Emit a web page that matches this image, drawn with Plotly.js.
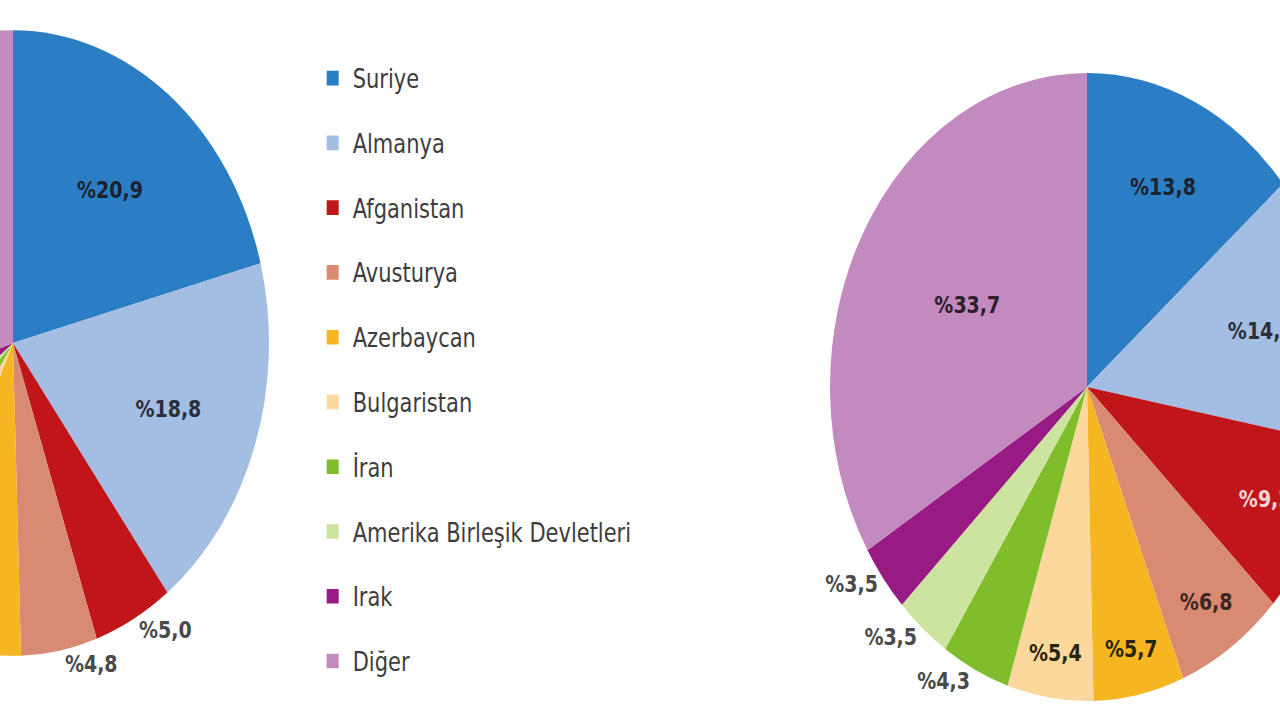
<!DOCTYPE html>
<html>
<head>
<meta charset="utf-8">
<script src="https://cdn.plot.ly/plotly-3.0.1.min.js"></script>
<style>
  html, body { margin: 0; padding: 0; width: 1280px; height: 720px; overflow: hidden; background: #ffffff; }
  #chart { position: absolute; left: -300px; top: 0; width: 1700px; height: 600px;
           transform: scaleY(1.222); transform-origin: 0 0; }
</style>
</head>
<body>
<div id="chart"></div>
<script>
// Categories (countries)
const countries = ["Suriye", "Almanya", "Afganistan", "Avusturya", "Azerbaycan",
                   "Bulgaristan", "İran", "Amerika Birleşik Devletleri", "Irak", "Diğer"];
// Left pie (percent shares)
const leftValues  = [20.9, 18.8, 5.0, 4.8, 7.5, 2.5, 3.0, 2.0, 5.5, 30.0];
// Right pie (percent shares)
const rightValues = [13.8, 14.1, 9.2, 6.8, 5.7, 5.4, 4.3, 3.5, 3.5, 33.7];
// Slice colours
const colors = ["#2b7ec4", "#a3bde3", "#c0161a", "#d88a72", "#f5b622",
                "#fcd89c", "#7fbd2a", "#cde3a0", "#971b83", "#c38ac0"];
// Label placement (left pie: slices cropped off the picture carry no label)
const leftPos  = ["inside","inside","outside","outside","none","none","none","none","none","none"];
const rightPos = ["inside","inside","inside","inside","inside","inside","outside","outside","outside","inside"];
const insideColors = ["#1b2230","#2a2f3a","#f6d6d6","#3a2622","#2a2410","#2a2410","#1e2a10","#1e2a10","#f0e0f0","#2a1f2a"];

function pieTrace(values, pos, domain) {
  return {
    type: "pie",
    labels: countries,
    values: values,
    sort: false,
    direction: "clockwise",
    rotation: 0,
    marker: {colors: colors, line: {width: 0}},
    texttemplate: "%%{value:.1f}",
    textposition: pos,
    insidetextorientation: "horizontal",
    insidetextfont: {family: "DejaVu Sans", size: 19, weight: "bold", color: insideColors},
    outsidetextfont: {family: "DejaVu Sans", size: 19, weight: "bold", color: "#4a4a4a"},
    domain: domain,
    showlegend: false,
    hoverinfo: "skip"
  };
}

const traces = [
  pieTrace(leftValues, leftPos, {x: [0.03353, 0.33471], y: [0.1055, 0.9588]}),
  pieTrace(rightValues, rightPos, {x: [0.66471, 0.96706], y: [0.0438, 0.9005]})
];

// Legend entries (one per category)
countries.forEach(function (c, i) {
  traces.push({
    type: "scatter",
    mode: "markers",
    x: [null], y: [null],
    name: c,
    legendgroup: "g" + i,
    marker: {symbol: "square", size: 12, color: colors[i]},
    showlegend: true,
    hoverinfo: "skip"
  });
});

const layout = {
  width: 1700,
  height: 600,
  margin: {l: 0, r: 0, t: 0, b: 0},
  paper_bgcolor: "#ffffff",
  plot_bgcolor: "#ffffff",
  separators: ",.",
  showlegend: true,
  xaxis: {visible: false},
  yaxis: {visible: false},
  legend: {
    x: 0.3604, xanchor: "left",
    y: 0.927, yanchor: "top",
    orientation: "v",
    tracegroupgap: 22.7,
    font: {family: "DejaVu Sans", size: 21, color: "#3c3c3c"},
    bgcolor: "rgba(0,0,0,0)",
    borderwidth: 0
  }
};

Plotly.newPlot("chart", traces, layout, {staticPlot: true, displayModeBar: false});
</script>
</body>
</html>
